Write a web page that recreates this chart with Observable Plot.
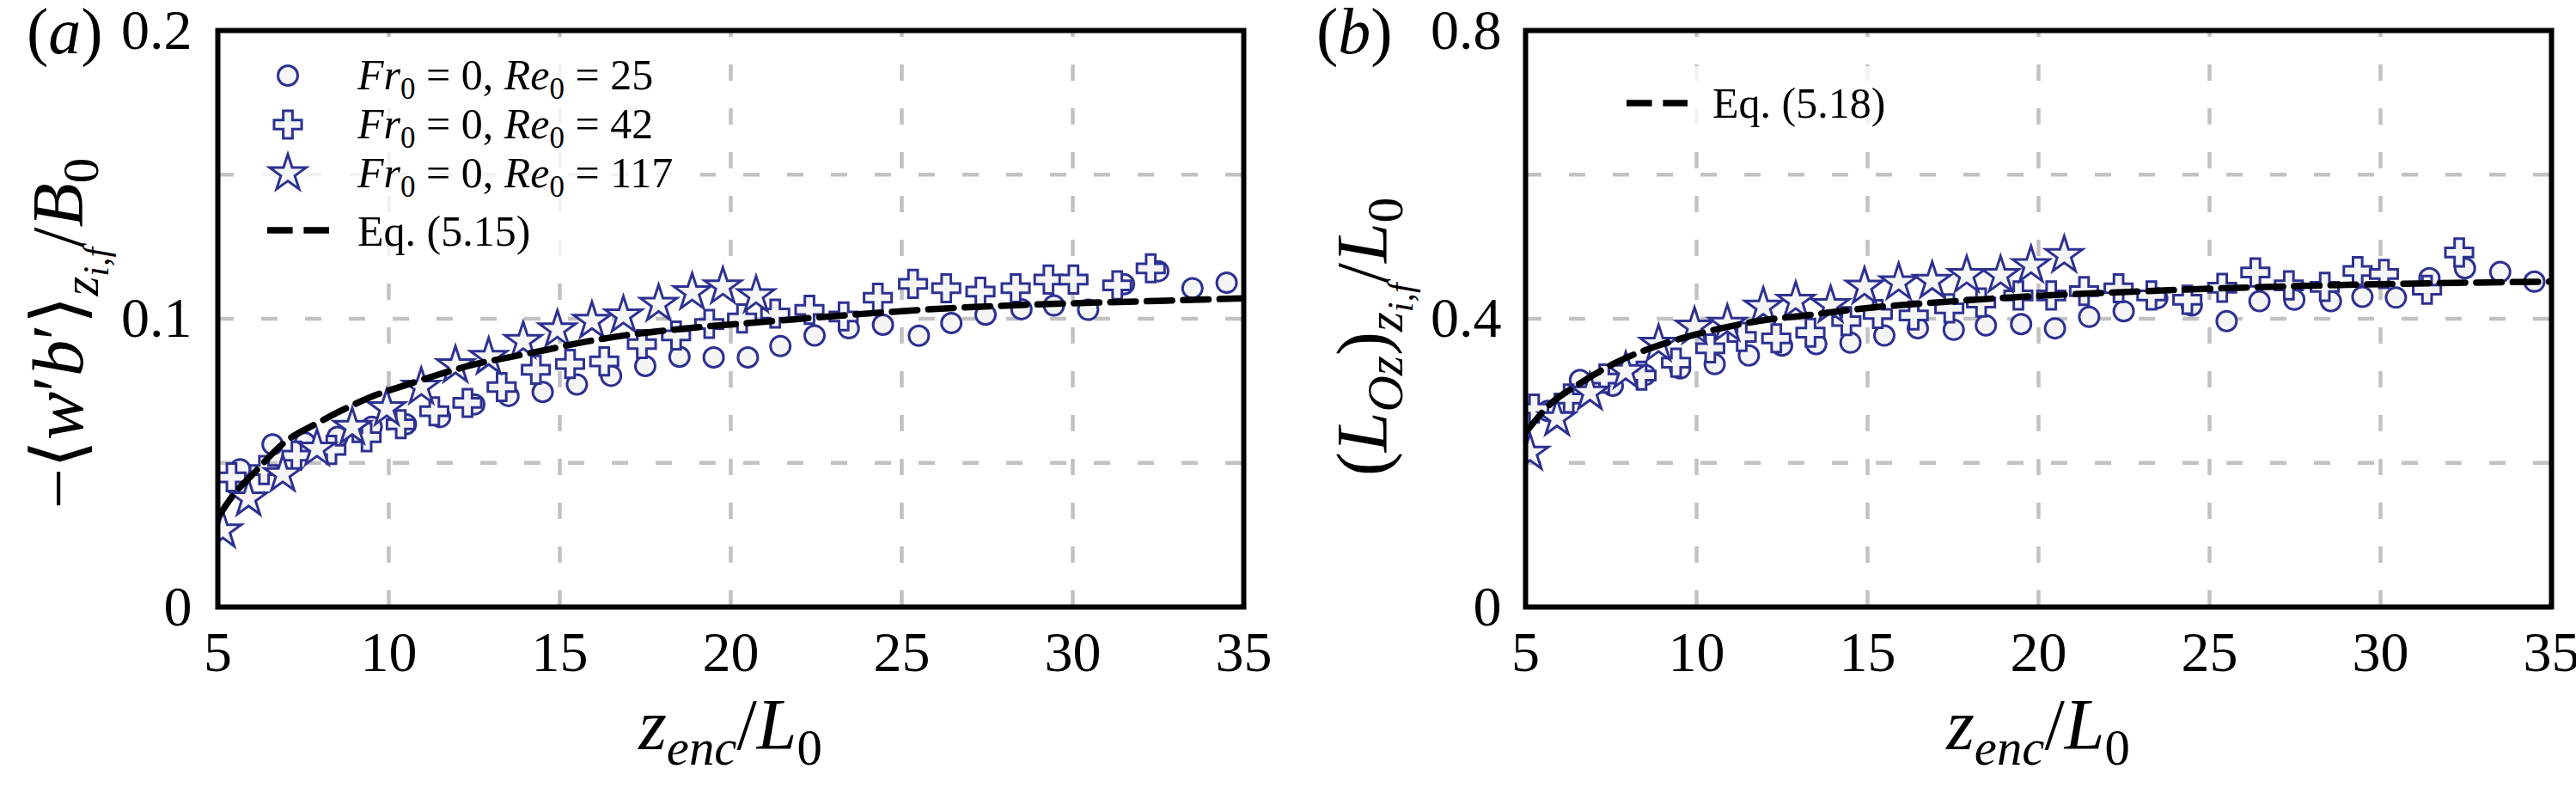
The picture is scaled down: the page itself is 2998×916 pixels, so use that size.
<!DOCTYPE html>
<html>
<head>
<meta charset="utf-8">
<script src="https://cdn.jsdelivr.net/npm/d3@7"></script>
<script src="https://cdn.jsdelivr.net/npm/@observablehq/plot@0.6"></script>
<style>
  html, body { margin: 0; padding: 0; background: #fff; }
  #wrap { display: flex; flex-direction: row; width: 2998px; height: 916px; overflow: hidden; }
  svg { display: block; flex: none; }
</style>
</head>
<body>
<div id="wrap"></div>
<script>
// ---------------- data ----------------
const xTicks = [5, 10, 15, 20, 25, 30, 35];
const gridX = [10, 15, 20, 25, 30];
const yTicksA = [0, 0.1, 0.2];
const gridYA = [0.05, 0.1, 0.15];
const yTicksB = [0, 0.4, 0.8];
const gridYB = [0.2, 0.4, 0.6];

// panel (a): -<w'b'>/B0
const zA25 = [5.65, 6.6, 7.55, 8.5, 9.5, 10.5, 11.5, 12.5, 13.5, 14.5, 15.5, 16.5, 17.5, 18.5, 19.5, 20.5, 21.45, 22.45, 23.45, 24.45, 25.5, 26.45, 27.45, 28.5, 29.45, 30.45, 31.5, 32.5, 33.5, 34.5];
const fluxA25 = [0.0478, 0.0564, 0.057, 0.059, 0.0625, 0.0634, 0.0659, 0.0703, 0.0732, 0.0746, 0.0772, 0.0802, 0.0836, 0.0868, 0.0866, 0.0866, 0.0905, 0.0942, 0.0967, 0.0979, 0.0941, 0.0985, 0.1014, 0.1033, 0.1046, 0.1031, 0.112, 0.1165, 0.1106, 0.1125];
const zA42 = [5.4, 6.35, 7.3, 8.32, 9.35, 10.35, 11.33, 12.3, 13.3, 14.3, 15.3, 16.3, 17.4, 18.4, 19.37, 20.33, 21.3, 22.3, 23.3, 24.3, 25.33, 26.3, 27.3, 28.33, 29.29, 30.02, 31.3, 32.28];
const fluxA42 = [0.045, 0.0475, 0.0525, 0.0545, 0.0589, 0.0634, 0.0679, 0.0708, 0.0763, 0.0823, 0.0843, 0.0852, 0.0912, 0.0942, 0.0982, 0.1001, 0.1018, 0.1031, 0.1008, 0.1073, 0.1121, 0.1106, 0.1094, 0.1106, 0.1136, 0.1136, 0.1116, 0.1175];
const zA117 = [5.15, 5.9, 6.9, 7.9, 8.93, 9.94, 10.95, 11.95, 12.92, 13.93, 14.93, 15.94, 16.86, 17.89, 18.87, 19.77, 20.74];
const fluxA117 = [0.0265, 0.0376, 0.046, 0.0549, 0.0624, 0.0689, 0.0763, 0.0838, 0.0867, 0.0922, 0.0962, 0.0992, 0.1011, 0.1051, 0.1091, 0.1111, 0.1081];
const zEqA = [5, 5.43, 6.06, 6.98, 7.9, 8.57, 9.57, 10.58, 11.5, 12.55, 13.55, 14.6, 15.6, 16.6, 18.74, 21.25, 23.76, 26.28, 29, 32.2, 35];
const eqA = [0.031, 0.0385, 0.0465, 0.0574, 0.0637, 0.0679, 0.0733, 0.0773, 0.0808, 0.0843, 0.0867, 0.0892, 0.0917, 0.0937, 0.0967, 0.0992, 0.1016, 0.1036, 0.105, 0.1061, 0.1071];

// panel (b): (L_Oz)/L0
const zB25 = [5.65, 6.59, 7.55, 8.5, 9.52, 10.53, 11.53, 12.5, 13.5, 14.5, 15.49, 16.47, 17.52, 18.46, 19.49, 20.48, 21.48, 22.49, 23.47, 24.48, 25.5, 26.46, 27.48, 28.55, 29.47, 30.45, 31.43, 32.47, 33.5, 34.5];
const lenB25 = [0.272, 0.315, 0.307, 0.322, 0.331, 0.337, 0.349, 0.3628, 0.3648, 0.3668, 0.3767, 0.3867, 0.3847, 0.3907, 0.3926, 0.3867, 0.4026, 0.4105, 0.4284, 0.4185, 0.3967, 0.4244, 0.4264, 0.4244, 0.4304, 0.4294, 0.4563, 0.4701, 0.465, 0.4515];
const zB42 = [5.25, 6.26, 7.3, 8.39, 9.4, 10.4, 11.32, 12.33, 13.33, 14.38, 15.3, 16.35, 17.39, 18.32, 19.41, 20.37, 21.33, 22.34, 23.3, 24.35, 25.37, 26.34, 27.32, 28.37, 29.33, 30.1, 31.36, 32.3];
const lenB42 = [0.2754, 0.2893, 0.317, 0.3211, 0.339, 0.3589, 0.3748, 0.3728, 0.3807, 0.3967, 0.4066, 0.4046, 0.4145, 0.4225, 0.4324, 0.4324, 0.4384, 0.4423, 0.4324, 0.4264, 0.443, 0.4642, 0.4463, 0.4443, 0.4662, 0.4622, 0.4403, 0.492];
const zB117 = [5.13, 5.92, 6.88, 7.93, 8.89, 9.94, 10.9, 11.95, 12.9, 13.92, 14.91, 15.91, 16.89, 17.9, 18.89, 19.78, 20.75];
const lenB117 = [0.2138, 0.2615, 0.2973, 0.327, 0.3648, 0.3887, 0.3926, 0.4165, 0.4244, 0.4185, 0.4443, 0.4503, 0.4523, 0.4602, 0.4602, 0.4741, 0.488];
const zEqB = [5, 5.71, 6.55, 7.64, 8.64, 9.73, 10.74, 11.83, 13.25, 14.93, 17.44, 19.95, 22.46, 25.2, 30, 35];
const eqB = [0.242, 0.281, 0.309, 0.339, 0.359, 0.375, 0.387, 0.397, 0.405, 0.4145, 0.424, 0.4316, 0.437, 0.442, 0.448, 0.4515];

const legendRe = ["25", "42", "117"];
const legendEqA = "Eq. (5.15)";
const legendEqB = "Eq. (5.18)";

// ---------------- style ----------------
const FONT = "Liberation Serif, DejaVu Serif, serif";
const BLUE = "#2e3192";
const FACE = "#f5f5f5";
const GRID = "#c2c2c2";
const symR = {circle: 11.5, cross: 13.5, star: 13.4};

function series(xs, ys, symbol) {
  return Plot.dot(xs, {x: xs, y: ys, symbol, r: symR[symbol], stroke: BLUE, fill: FACE, strokeWidth: 3, clip: true});
}

function panel({width, marginLeft, marginRight, yDomain, yTicks, gridY, sets, eqX, eqY, padY}) {
  return Plot.plot({
    width, height: 916,
    marginLeft, marginRight, marginTop: 35, marginBottom: 210,
    style: {fontFamily: FONT, fontSize: "66px", background: "white", color: "black", overflow: "visible"},
    x: {domain: [5, 35]},
    y: {domain: yDomain},
    marks: [
      Plot.ruleY(gridY, {stroke: GRID, strokeWidth: 4.5, strokeDasharray: "19,32"}),
      Plot.ruleX(gridX, {x: d => d, y1: yDomain[0], y2: yDomain[1], stroke: GRID, strokeWidth: 4.5, strokeDasharray: "19,32"}),
      Plot.axisX({ticks: xTicks, tickSize: 0, tickPadding: 28, fontSize: 66, label: null, tickFormat: d => String(d)}),
      Plot.axisY({ticks: yTicks, tickSize: 0, tickPadding: padY, fontSize: 66, label: null, tickFormat: d => d === 0 ? "0" : String(d)}),
      series(sets[0][0], sets[0][1], "circle"),
      series(sets[1][0], sets[1][1], "cross"),
      series(sets[2][0], sets[2][1], "star"),
      Plot.line(eqX, {x: eqX, y: eqY, curve: "monotone-x", stroke: "black", strokeWidth: 7.5, strokeDasharray: "29.6,12.8", clip: true}),
      Plot.frame({stroke: "black", strokeWidth: 6})
    ]
  });
}

// rich text helper: parts = [text, italic, level]
function rich(textSel, parts, base) {
  let cur = 0;
  for (const [t, it, lvl] of parts) {
    const size = lvl === 0 ? base : lvl === 1 ? base * 0.7 : base * 0.5;
    const shift = lvl === 0 ? 0 : lvl === 1 ? 0.22 * base : 0.36 * base;
    textSel.append("tspan")
      .attr("dy", shift - cur)
      .attr("font-size", size)
      .attr("font-style", it ? "italic" : "normal")
      .text(t);
    cur = shift;
  }
}

function label(svg, x, y, parts, base, rotate) {
  const t = d3.select(svg).append("text")
    .attr("transform", `translate(${x},${y})` + (rotate ? " rotate(-90)" : ""))
    .attr("text-anchor", "middle")
    .attr("font-family", FONT)
    .attr("fill", "black");
  rich(t, parts, base);
  return t;
}

function panelTag(svg, x, y, letter) {
  const t = d3.select(svg).append("text")
    .attr("x", x).attr("y", y).attr("text-anchor", "start")
    .attr("font-family", FONT).attr("font-size", 76).attr("fill", "black");
  t.append("tspan").text("(");
  t.append("tspan").attr("font-style", "italic").text(letter);
  t.append("tspan").text(")");
}

function legendBox(svg, x, y, w, h) {
  d3.select(svg).append("rect")
    .attr("x", x).attr("y", y).attr("width", w).attr("height", h)
    .attr("rx", 8).attr("fill", "white").attr("fill-opacity", 0.8);
}

function legendDash(svg, x1, x2, y) {
  d3.select(svg).append("line")
    .attr("x1", x1).attr("x2", x2).attr("y1", y).attr("y2", y)
    .attr("stroke", "black").attr("stroke-width", 7.5).attr("stroke-dasharray", "29.6,12.8");
}

function legendText(svg, x, y, parts) {
  const t = d3.select(svg).append("text")
    .attr("x", x).attr("y", y).attr("text-anchor", "start")
    .attr("font-family", FONT).attr("fill", "black");
  rich(t, parts, 50);
}

function legendSymbol(svg, cx, cy, type, r) {
  const sym = {circle: d3.symbolCircle, cross: d3.symbolCross, star: d3.symbolStar}[type];
  d3.select(svg).append("path")
    .attr("transform", `translate(${cx},${cy})`)
    .attr("d", d3.symbol(sym, Math.PI * r * r)())
    .attr("stroke", BLUE).attr("stroke-width", 3).attr("fill", FACE);
}

const wrap = document.getElementById("wrap");

// ---------- panel (a) ----------
const svgA = panel({
  width: 1510, marginLeft: 253, marginRight: 63,
  yDomain: [0, 0.2], yTicks: yTicksA, gridY: gridYA, padY: 30,
  sets: [[zA25, fluxA25], [zA42, fluxA42], [zA117, fluxA117]],
  eqX: zEqA, eqY: eqA
});
wrap.appendChild(svgA);

panelTag(svgA, 31, 62, "a");
label(svgA, 96, 388, [
  ["−⟨", false, 0], ["w", true, 0], ["′", false, 0], ["b", true, 0], ["′⟩", false, 0],
  ["z", true, 1], ["i,f", true, 2], ["/", false, 0], ["B", true, 0], ["0", false, 1]
], 84, true);
label(svgA, 850, 872, [
  ["z", true, 0], ["enc", true, 1], ["/", false, 0], ["L", true, 0], ["0", false, 1]
], 84, false);

legendBox(svgA, 300, 45, 515, 265);
const legYA = [88, 145, 202];
const legSyms = ["circle", "cross", "star"];
legendRe.forEach((re, i) => {
  legendSymbol(svgA, 335, legYA[i], legSyms[i], symR[legSyms[i]]);
  legendText(svgA, 416, legYA[i] + 16, [
    ["Fr", true, 0], ["0", false, 1], [" = 0, ", false, 0],
    ["Re", true, 0], ["0", false, 1], [" = " + re, false, 0]
  ]);
});
legendDash(svgA, 311, 383, 268);
legendText(svgA, 416, 286, [[legendEqA, false, 0]]);

// ---------- panel (b) ----------
const svgB = panel({
  width: 1488, marginLeft: 265, marginRight: 29,
  yDomain: [0, 0.8], yTicks: yTicksB, gridY: gridYB, padY: 28,
  sets: [[zB25, lenB25], [zB42, lenB42], [zB117, lenB117]],
  eqX: zEqB, eqY: eqB
});
wrap.appendChild(svgB);

panelTag(svgB, 22, 62, "b");
label(svgB, 104, 392, [
  ["(", false, 0], ["L", true, 0], ["Oz", true, 1], [")", false, 0],
  ["z", true, 1], ["i,f", true, 2], ["/", false, 0], ["L", true, 0], ["0", false, 1]
], 84, true);
label(svgB, 862, 872, [
  ["z", true, 0], ["enc", true, 1], ["/", false, 0], ["L", true, 0], ["0", false, 1]
], 84, false);

legendBox(svgB, 358, 77, 356, 88);
legendDash(svgB, 383, 454, 120);
legendText(svgB, 483, 137, [[legendEqB, false, 0]]);
</script>
</body>
</html>
